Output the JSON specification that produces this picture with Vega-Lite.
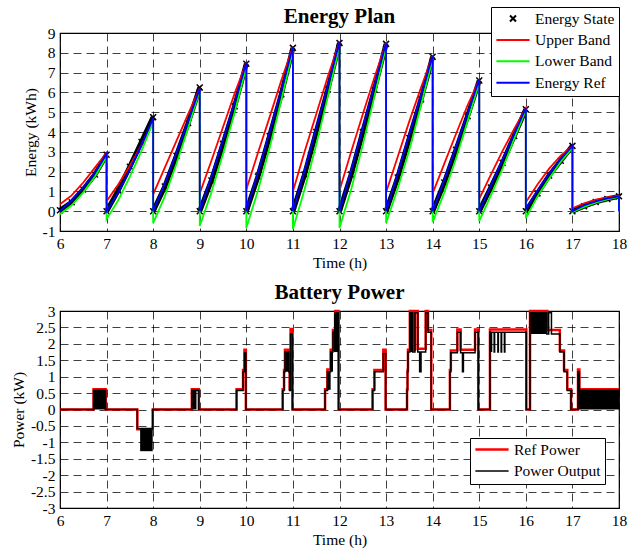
{
  "$schema": "https://vega.github.io/schema/vega-lite/v6.json",
  "background": "white",
  "padding": {"left": 10, "top": 4, "right": 15, "bottom": 3},
  "spacing": 80,
  "bounds": "flush",
  "config": {
    "font": "Liberation Serif",
    "view": {"stroke": "black", "strokeWidth": 1.2},
    "title": {"font": "Liberation Serif", "fontSize": 21, "fontWeight": "bold", "color": "black", "offset": 6, "anchor": "middle", "frame": "group"},
    "axis": {
      "labelFont": "Liberation Serif", "labelFontSize": 15.5, "labelColor": "black",
      "titleFont": "Liberation Serif", "titleFontSize": 15.5, "titleFontWeight": "normal", "titleColor": "black",
      "domain": false, "ticks": false, "labelPadding": 5, "titlePadding": 4,
      "grid": true, "gridColor": "#000000", "gridOpacity": 0.75, "gridDash": [8, 5], "gridWidth": 1,
      "labelFlush": false, "labelOverlap": false, "format": "~g",
      "labelExpr": "replace(datum.label, '\u2212', '-')"
    },
    "legend": {
      "labelFont": "Liberation Serif", "labelFontSize": 15.5, "labelColor": "black",
      "fillColor": "white", "strokeColor": "black", "padding": 4,
      "clipHeight": 15, "rowPadding": 5.4, "symbolSize": 1100, "symbolStrokeWidth": 2,
      "labelOffset": 4, "orient": "none", "title": null
    }
  },
  "resolve": {
    "scale": {"color": "independent", "shape": "independent", "strokeWidth": "independent"},
    "legend": {"color": "independent", "shape": "independent"}
  },
  "vconcat": [
    {
      "width": 559,
      "height": 198,
      "title": {"text": "Energy Plan", "offset": -20},
      "data": {"values": [
        {"i":1,"g":6,"t":6,"Energy State":0.05,"Upper Band":0.35,"Lower Band":-0.15,"Energy Ref":0},
        {"i":2,"g":6,"t":6.25,"Energy State":0.45,"Upper Band":0.8,"Lower Band":0.3,"Energy Ref":0.55},
        {"i":3,"g":6,"t":6.5,"Energy State":1.1,"Upper Band":1.45,"Lower Band":0.95,"Energy Ref":1.2},
        {"i":4,"g":6,"t":6.75,"Energy State":1.85,"Upper Band":2.2,"Lower Band":1.75,"Energy Ref":1.95},
        {"i":5,"g":6,"t":7,"Energy State":2.85,"Upper Band":2.95,"Lower Band":2.75,"Energy Ref":2.9},
        {"i":6,"g":7,"t":7,"Energy State":0,"Upper Band":0.5,"Lower Band":-0.4,"Energy Ref":0},
        {"i":7,"g":7,"t":7.25,"Energy State":1.05,"Upper Band":1.35,"Lower Band":0.55,"Energy Ref":0.95},
        {"i":8,"g":7,"t":7.5,"Energy State":2.25,"Upper Band":2.3,"Lower Band":1.75,"Energy Ref":2.1},
        {"i":9,"g":7,"t":7.75,"Energy State":3.5,"Upper Band":3.35,"Lower Band":3.05,"Energy Ref":3.35},
        {"i":10,"g":7,"t":8,"Energy State":4.75,"Upper Band":4.5,"Lower Band":4.5,"Energy Ref":4.7},
        {"i":11,"g":8,"t":8,"Energy State":0,"Upper Band":0.85,"Lower Band":-0.6,"Energy Ref":0},
        {"i":12,"g":8,"t":8.25,"Energy State":1.25,"Upper Band":2.2,"Lower Band":0.75,"Energy Ref":1.4},
        {"i":13,"g":8,"t":8.5,"Energy State":2.8,"Upper Band":3.55,"Lower Band":2.4,"Energy Ref":2.95},
        {"i":14,"g":8,"t":8.75,"Energy State":4.45,"Upper Band":4.9,"Lower Band":4.2,"Energy Ref":4.55},
        {"i":15,"g":8,"t":9,"Energy State":6.25,"Upper Band":6.2,"Lower Band":6.1,"Energy Ref":6.2},
        {"i":16,"g":9,"t":9,"Energy State":0,"Upper Band":0.9,"Lower Band":-0.75,"Energy Ref":0},
        {"i":17,"g":9,"t":9.25,"Energy State":1.55,"Upper Band":2.55,"Lower Band":0.95,"Energy Ref":1.75},
        {"i":18,"g":9,"t":9.5,"Energy State":3.4,"Upper Band":4.25,"Lower Band":2.9,"Energy Ref":3.6},
        {"i":19,"g":9,"t":9.75,"Energy State":5.3,"Upper Band":5.95,"Lower Band":5.0,"Energy Ref":5.5},
        {"i":20,"g":9,"t":10,"Energy State":7.45,"Upper Band":7.5,"Lower Band":7.3,"Energy Ref":7.5},
        {"i":21,"g":10,"t":10,"Energy State":0,"Upper Band":1.1,"Lower Band":-0.85,"Energy Ref":0},
        {"i":22,"g":10,"t":10.25,"Energy State":1.75,"Upper Band":2.95,"Lower Band":1.05,"Energy Ref":1.95},
        {"i":23,"g":10,"t":10.5,"Energy State":3.8,"Upper Band":4.75,"Lower Band":3.2,"Energy Ref":4.0},
        {"i":24,"g":10,"t":10.75,"Energy State":5.9,"Upper Band":6.6,"Lower Band":5.6,"Energy Ref":6.1},
        {"i":25,"g":10,"t":11,"Energy State":8.25,"Upper Band":8.3,"Lower Band":8.1,"Energy Ref":8.3},
        {"i":26,"g":11,"t":11,"Energy State":0,"Upper Band":1.0,"Lower Band":-0.9,"Energy Ref":0},
        {"i":27,"g":11,"t":11.25,"Energy State":1.85,"Upper Band":3.0,"Lower Band":1.1,"Energy Ref":2.05},
        {"i":28,"g":11,"t":11.5,"Energy State":4.0,"Upper Band":4.9,"Lower Band":3.35,"Energy Ref":4.2},
        {"i":29,"g":11,"t":11.75,"Energy State":6.15,"Upper Band":6.8,"Lower Band":5.8,"Energy Ref":6.35},
        {"i":30,"g":11,"t":12,"Energy State":8.5,"Upper Band":8.55,"Lower Band":8.35,"Energy Ref":8.55},
        {"i":31,"g":12,"t":12,"Energy State":0,"Upper Band":1.05,"Lower Band":-0.85,"Energy Ref":0},
        {"i":32,"g":12,"t":12.25,"Energy State":1.85,"Upper Band":3.0,"Lower Band":1.1,"Energy Ref":2.05},
        {"i":33,"g":12,"t":12.5,"Energy State":4.0,"Upper Band":4.9,"Lower Band":3.35,"Energy Ref":4.2},
        {"i":34,"g":12,"t":12.75,"Energy State":6.15,"Upper Band":6.75,"Lower Band":5.8,"Energy Ref":6.35},
        {"i":35,"g":12,"t":13,"Energy State":8.45,"Upper Band":8.5,"Lower Band":8.3,"Energy Ref":8.5},
        {"i":36,"g":13,"t":13,"Energy State":0,"Upper Band":0.95,"Lower Band":-0.6,"Energy Ref":0},
        {"i":37,"g":13,"t":13.25,"Energy State":1.7,"Upper Band":2.75,"Lower Band":1.15,"Energy Ref":1.9},
        {"i":38,"g":13,"t":13.5,"Energy State":3.7,"Upper Band":4.55,"Lower Band":3.1,"Energy Ref":3.9},
        {"i":39,"g":13,"t":13.75,"Energy State":5.65,"Upper Band":6.25,"Lower Band":5.35,"Energy Ref":5.85},
        {"i":40,"g":13,"t":14,"Energy State":7.8,"Upper Band":7.85,"Lower Band":7.7,"Energy Ref":7.85},
        {"i":41,"g":14,"t":14,"Energy State":0,"Upper Band":0.9,"Lower Band":-0.55,"Energy Ref":0},
        {"i":42,"g":14,"t":14.25,"Energy State":1.45,"Upper Band":2.4,"Lower Band":0.95,"Energy Ref":1.6},
        {"i":43,"g":14,"t":14.5,"Energy State":3.1,"Upper Band":3.9,"Lower Band":2.65,"Energy Ref":3.25},
        {"i":44,"g":14,"t":14.75,"Energy State":4.8,"Upper Band":5.35,"Lower Band":4.55,"Energy Ref":4.95},
        {"i":45,"g":14,"t":15,"Energy State":6.6,"Upper Band":6.65,"Lower Band":6.5,"Energy Ref":6.65},
        {"i":46,"g":15,"t":15,"Energy State":0,"Upper Band":0.62,"Lower Band":-0.5,"Energy Ref":0},
        {"i":47,"g":15,"t":15.25,"Energy State":1.2,"Upper Band":1.85,"Lower Band":0.8,"Energy Ref":1.3},
        {"i":48,"g":15,"t":15.5,"Energy State":2.45,"Upper Band":3.05,"Lower Band":2.15,"Energy Ref":2.6},
        {"i":49,"g":15,"t":15.75,"Energy State":3.8,"Upper Band":4.15,"Lower Band":3.65,"Energy Ref":3.9},
        {"i":50,"g":15,"t":16,"Energy State":5.15,"Upper Band":5.2,"Lower Band":5.1,"Energy Ref":5.2},
        {"i":51,"g":16,"t":16,"Energy State":0,"Upper Band":0.45,"Lower Band":-0.35,"Energy Ref":0.1},
        {"i":52,"g":16,"t":16.25,"Energy State":0.9,"Upper Band":1.35,"Lower Band":0.75,"Energy Ref":1.05},
        {"i":53,"g":16,"t":16.5,"Energy State":1.8,"Upper Band":2.15,"Lower Band":1.65,"Energy Ref":1.9},
        {"i":54,"g":16,"t":16.75,"Energy State":2.55,"Upper Band":2.8,"Lower Band":2.5,"Energy Ref":2.65},
        {"i":55,"g":16,"t":17,"Energy State":3.3,"Upper Band":3.3,"Lower Band":3.2,"Energy Ref":3.3},
        {"i":56,"g":17,"t":17,"Energy State":0,"Upper Band":0.15,"Lower Band":-0.05,"Energy Ref":0},
        {"i":57,"g":17,"t":17.25,"Energy State":0.25,"Upper Band":0.4,"Lower Band":0.22,"Energy Ref":0.3},
        {"i":58,"g":17,"t":17.5,"Energy State":0.47,"Upper Band":0.58,"Lower Band":0.43,"Energy Ref":0.5},
        {"i":59,"g":17,"t":17.75,"Energy State":0.62,"Upper Band":0.7,"Lower Band":0.6,"Energy Ref":0.65},
        {"i":60,"g":17,"t":18,"Energy State":0.75,"Upper Band":0.78,"Lower Band":0.72,"Energy Ref":0.75},
        {"i":61,"g":17,"t":18,"Lower Band":0,"Energy Ref":0}
      ]},
      "transform": [{"fold": ["Energy State", "Upper Band", "Lower Band", "Energy Ref"], "as": ["series", "v"]}],
      "encoding": {
        "x": {"field": "t", "type": "quantitative", "scale": {"domain": [6, 18], "nice": false}, "axis": {"values": [6,7,8,9,10,11,12,13,14,15,16,17,18], "title": "Time (h)"}},
        "y": {"field": "v", "type": "quantitative", "scale": {"domain": [-1, 9], "nice": false}, "axis": {"values": [-1,0,1,2,3,4,5,6,7,8,9], "title": "Energy (kWh)"}},
        "color": {"field": "series", "type": "nominal",
          "scale": {"domain": ["Energy State", "Upper Band", "Lower Band", "Energy Ref"], "range": ["#000000", "#ff0000", "#00ff00", "#0000ff"]},
          "legend": {"orient": "none", "legendX": 431, "legendY": -26}}
      },
      "layer": [
        {
          "transform": [{"filter": "datum.series == 'Energy State'"}],
          "mark": {"type": "line", "strokeWidth": 5},
          "encoding": {"order": {"field": "i", "type": "quantitative"}, "detail": {"field": "g", "type": "nominal"}}
        },
        {
          "transform": [{"filter": "datum.series == 'Energy State'"}],
          "mark": {"type": "point", "filled": false, "size": 1100, "strokeWidth": 1.5, "opacity": 1},
          "encoding": {
            "shape": {"field": "series", "type": "nominal",
              "scale": {"domain": ["Energy State", "Upper Band", "Lower Band", "Energy Ref"], "range": ["M-0.18,-0.18L0.18,0.18M-0.18,0.18L0.18,-0.18", "stroke", "stroke", "stroke"]},
              "legend": {"orient": "none", "legendX": 431, "legendY": -26}}
          }
        },
        {
          "transform": [{"filter": "datum.series != 'Energy State'"}],
          "mark": {"type": "line", "strokeWidth": 1.8},
          "encoding": {"order": {"field": "i", "type": "quantitative"}}
        }
      ]
    },
    {
      "width": 559,
      "height": 197,
      "title": {"text": "Battery Power", "offset": 1},
      "layer": [
        {
          "data": {"values": [
            {"s":"Ref Power","t":6,"p":0},{"s":"Ref Power","t":6.72,"p":0.62},{"s":"Ref Power","t":6.98,"p":0},
            {"s":"Ref Power","t":7.66,"p":-0.6},{"s":"Ref Power","t":7.99,"p":0},{"s":"Ref Power","t":8.83,"p":0.62},
            {"s":"Ref Power","t":8.98,"p":0},{"s":"Ref Power","t":9.79,"p":0.62},{"s":"Ref Power","t":9.93,"p":1.2},
            {"s":"Ref Power","t":9.96,"p":1.82},{"s":"Ref Power","t":9.99,"p":0},{"s":"Ref Power","t":10.78,"p":0.62},
            {"s":"Ref Power","t":10.81,"p":1.2},{"s":"Ref Power","t":10.83,"p":1.82},{"s":"Ref Power","t":10.91,"p":1.2},
            {"s":"Ref Power","t":10.93,"p":0.62},{"s":"Ref Power","t":10.95,"p":2.45},{"s":"Ref Power","t":10.99,"p":0},
            {"s":"Ref Power","t":11.69,"p":0.62},{"s":"Ref Power","t":11.74,"p":1.22},{"s":"Ref Power","t":11.81,"p":1.82},
            {"s":"Ref Power","t":11.86,"p":2.42},{"s":"Ref Power","t":11.91,"p":3.0},{"s":"Ref Power","t":11.98,"p":0},
            {"s":"Ref Power","t":12.71,"p":0.62},{"s":"Ref Power","t":12.75,"p":1.2},{"s":"Ref Power","t":12.94,"p":1.82},
            {"s":"Ref Power","t":12.99,"p":0},{"s":"Ref Power","t":13.45,"p":0.62},{"s":"Ref Power","t":13.46,"p":1.2},
            {"s":"Ref Power","t":13.47,"p":1.82},{"s":"Ref Power","t":13.51,"p":3.0},{"s":"Ref Power","t":13.57,"p":1.82},
            {"s":"Ref Power","t":13.62,"p":3.0},{"s":"Ref Power","t":13.68,"p":1.85},{"s":"Ref Power","t":13.85,"p":3.0},
            {"s":"Ref Power","t":13.9,"p":2.42},{"s":"Ref Power","t":13.97,"p":0},{"s":"Ref Power","t":14.37,"p":1.2},
            {"s":"Ref Power","t":14.39,"p":1.8},{"s":"Ref Power","t":14.53,"p":2.44},{"s":"Ref Power","t":14.6,"p":1.82},
            {"s":"Ref Power","t":14.91,"p":2.44},{"s":"Ref Power","t":14.98,"p":0},{"s":"Ref Power","t":15.23,"p":2.44},
            {"s":"Ref Power","t":16.01,"p":0},{"s":"Ref Power","t":16.09,"p":3.0},{"s":"Ref Power","t":16.46,"p":2.42},
            {"s":"Ref Power","t":16.73,"p":1.8},{"s":"Ref Power","t":16.82,"p":1.2},{"s":"Ref Power","t":16.89,"p":0.62},
            {"s":"Ref Power","t":16.97,"p":0},{"s":"Ref Power","t":17.12,"p":1.22},{"s":"Ref Power","t":17.15,"p":0.62},
            {"s":"Ref Power","t":18,"p":0.62},
            {"s":"Power Output","t":6,"p":0},{"s":"Power Output","t":6.72,"p":0.58},{"s":"Power Output","t":6.98,"p":0},
            {"s":"Power Output","t":7.66,"p":-0.58},{"s":"Power Output","t":7.99,"p":0},{"s":"Power Output","t":8.83,"p":0.58},
            {"s":"Power Output","t":8.98,"p":0},{"s":"Power Output","t":9.79,"p":0.58},{"s":"Power Output","t":9.93,"p":1.15},
            {"s":"Power Output","t":9.96,"p":1.72},{"s":"Power Output","t":9.99,"p":0},{"s":"Power Output","t":10.78,"p":0.58},
            {"s":"Power Output","t":10.81,"p":1.15},{"s":"Power Output","t":10.83,"p":1.75},{"s":"Power Output","t":10.91,"p":1.15},
            {"s":"Power Output","t":10.93,"p":0.58},{"s":"Power Output","t":10.95,"p":2.3},{"s":"Power Output","t":10.99,"p":0},
            {"s":"Power Output","t":11.69,"p":0.58},{"s":"Power Output","t":11.74,"p":1.15},{"s":"Power Output","t":11.81,"p":1.75},
            {"s":"Power Output","t":11.86,"p":2.35},{"s":"Power Output","t":11.91,"p":2.95},{"s":"Power Output","t":11.98,"p":0},
            {"s":"Power Output","t":12.71,"p":0.58},{"s":"Power Output","t":12.75,"p":1.15},{"s":"Power Output","t":12.94,"p":1.7},
            {"s":"Power Output","t":12.99,"p":0},{"s":"Power Output","t":13.45,"p":0.58},{"s":"Power Output","t":13.46,"p":1.15},
            {"s":"Power Output","t":13.47,"p":1.75},{"s":"Power Output","t":13.51,"p":2.95},{"s":"Power Output","t":13.57,"p":1.75},
            {"s":"Power Output","t":13.62,"p":2.95},{"s":"Power Output","t":13.68,"p":1.75},{"s":"Power Output","t":13.72,"p":1.15},
            {"s":"Power Output","t":13.75,"p":1.75},{"s":"Power Output","t":13.85,"p":2.95},{"s":"Power Output","t":13.9,"p":2.35},
            {"s":"Power Output","t":13.97,"p":0},{"s":"Power Output","t":14.37,"p":1.15},{"s":"Power Output","t":14.39,"p":1.73},
            {"s":"Power Output","t":14.53,"p":2.35},{"s":"Power Output","t":14.6,"p":1.73},{"s":"Power Output","t":14.64,"p":1.15},
            {"s":"Power Output","t":14.66,"p":1.73},{"s":"Power Output","t":14.91,"p":2.35},{"s":"Power Output","t":14.98,"p":0},
            {"s":"Power Output","t":15.23,"p":2.35},{"s":"Power Output","t":15.32,"p":1.75},{"s":"Power Output","t":15.33,"p":2.35},
            {"s":"Power Output","t":15.4,"p":1.75},{"s":"Power Output","t":15.41,"p":2.35},{"s":"Power Output","t":15.47,"p":1.75},
            {"s":"Power Output","t":15.48,"p":2.35},{"s":"Power Output","t":15.54,"p":1.75},{"s":"Power Output","t":15.55,"p":2.35},
            {"s":"Power Output","t":16.01,"p":0},{"s":"Power Output","t":16.09,"p":2.95},{"s":"Power Output","t":16.45,"p":2.3},
            {"s":"Power Output","t":16.49,"p":2.95},{"s":"Power Output","t":16.55,"p":2.3},{"s":"Power Output","t":16.73,"p":1.75},
            {"s":"Power Output","t":16.82,"p":1.15},{"s":"Power Output","t":16.89,"p":0.58},{"s":"Power Output","t":16.97,"p":0},
            {"s":"Power Output","t":17.12,"p":1.15},{"s":"Power Output","t":17.15,"p":0.58},{"s":"Power Output","t":18,"p":0.58}
          ]},
          "mark": {"type": "line", "interpolate": "step-after"},
          "encoding": {
            "x": {"field": "t", "type": "quantitative", "scale": {"domain": [6, 18], "nice": false}, "axis": {"values": [6,7,8,9,10,11,12,13,14,15,16,17,18], "title": "Time (h)"}},
            "y": {"field": "p", "type": "quantitative", "scale": {"domain": [-3, 3], "nice": false}, "axis": {"values": [-3,-2.5,-2,-1.5,-1,-0.5,0,0.5,1,1.5,2,2.5,3], "title": "Power (kW)"}},
            "color": {"field": "s", "type": "nominal", "scale": {"domain": ["Ref Power", "Power Output"], "range": ["#ff0000", "#000000"]},
              "legend": {"orient": "none", "legendX": 410, "legendY": 127}},
            "strokeWidth": {"field": "s", "type": "nominal", "scale": {"domain": ["Ref Power", "Power Output"], "range": [2.5, 1.5]}, "legend": null}
          }
        },
        {
          "data": {"values": [
            {"a":6.72,"b":6.98,"lo":0,"hi":0.6},
            {"a":7.72,"b":7.99,"lo":-1.27,"hi":-0.6},
            {"a":8.84,"b":8.93,"lo":0,"hi":0.6},
            {"a":10.84,"b":10.91,"lo":1.15,"hi":1.75},
            {"a":11.75,"b":11.81,"lo":0.6,"hi":1.15},
            {"a":11.81,"b":11.86,"lo":1.15,"hi":1.75},
            {"a":11.88,"b":11.97,"lo":1.75,"hi":2.95},
            {"a":13.5,"b":13.56,"lo":1.75,"hi":2.95},
            {"a":15.23,"b":15.28,"lo":1.75,"hi":2.35},
            {"a":16.11,"b":16.44,"lo":2.3,"hi":2.95},
            {"a":17.13,"b":18,"lo":0,"hi":0.6}
          ]},
          "mark": {"type": "rect", "color": "#000000"},
          "encoding": {
            "x": {"field": "a", "type": "quantitative", "axis": {"values": [6,7,8,9,10,11,12,13,14,15,16,17,18], "title": "Time (h)"}},
            "x2": {"field": "b"},
            "y": {"field": "lo", "type": "quantitative", "axis": {"values": [-3,-2.5,-2,-1.5,-1,-0.5,0,0.5,1,1.5,2,2.5,3], "title": "Power (kW)"}},
            "y2": {"field": "hi"}
          }
        }
      ]
    }
  ]
}
